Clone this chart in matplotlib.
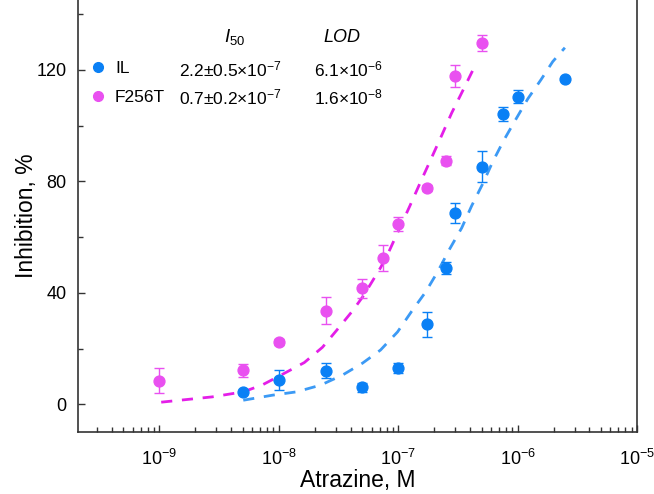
import matplotlib
matplotlib.use('Agg')
from matplotlib import pyplot as plt
from matplotlib.lines import Line2D
from matplotlib.ticker import LogLocator, MultipleLocator, LogFormatterSciNotation, NullFormatter

plt.rcParams['font.family'] = ['Liberation Sans', 'DejaVu Sans']
plt.rcParams['mathtext.fontset'] = 'custom'
plt.rcParams['mathtext.rm'] = 'Liberation Sans'
plt.rcParams['mathtext.it'] = 'Liberation Sans:italic'

# measured points, F256T mutant
x_f256t = [1e-9, 5e-9, 1e-8, 2.5e-8, 5e-8, 7.5e-8, 1e-7, 1.75e-7, 2.5e-7, 3e-7, 5e-7]
y_f256t = [8.5, 12.2, 22.4, 33.6, 41.6, 52.5, 64.7, 77.6, 87.4, 117.8, 129.6]
err_f256t = [4.5, 2.2, 1.0, 4.8, 3.3, 4.5, 2.5, 1.0, 1.5, 3.9, 2.9]

# measured points, IL
x_il = [5e-9, 1e-8, 2.5e-8, 5e-8, 1e-7, 1.75e-7, 2.5e-7, 3e-7, 5e-7, 7.5e-7, 1e-6, 2.5e-6]
y_il = [4.5, 8.7, 12.1, 6.1, 13.0, 28.8, 48.8, 68.6, 85.3, 104.1, 110.4, 116.6]
err_il = [0.6, 3.7, 2.7, 1.5, 1.8, 4.5, 2.1, 3.6, 5.5, 2.4, 2.4, 0.0]

# fitted curves
fit_f256t_x = [1.04e-9, 2.78e-9, 5.06e-9, 7.31e-9, 9.95e-9, 1.64e-8, 2.33e-8, 3.05e-8,
               4.15e-8, 5.14e-8, 7.13e-8, 8.32e-8, 1.25e-7, 1.57e-7, 1.91e-7, 2.32e-7,
               2.81e-7, 3.48e-7, 4.30e-7]
fit_f256t_y = [0.8, 2.7, 4.5, 7.0, 10.0, 15.0, 20.5, 26.5, 33.5, 39.0, 49.0, 54.5,
               71.0, 80.5, 88.5, 96.5, 104.5, 112.5, 120.5]
fit_il_x = [5.06e-9, 8.86e-9, 1.41e-8, 2.24e-8, 3.42e-8, 5.04e-8, 7.13e-8, 9.90e-8,
            1.30e-7, 1.70e-7, 2.14e-7, 2.70e-7, 3.41e-7, 4.13e-7, 5.11e-7, 6.20e-7,
            7.67e-7, 9.67e-7, 1.22e-6, 1.57e-6, 1.97e-6, 2.49e-6]
fit_il_y = [1.5, 3.3, 4.5, 6.9, 10.5, 14.8, 19.5, 26.0, 33.4, 40.3, 47.5, 55.7,
            63.3, 71.2, 79.1, 87.0, 94.7, 102.2, 109.6, 116.4, 122.9, 127.9]

x_major = [1e-9, 1e-8, 1e-7, 1e-6, 1e-5]
names = ['IL', 'F256T']
i50_text = [r'2.2$\pm$0.5$\times$10$^{-7}$', r'0.7$\pm$0.2$\times$10$^{-7}$']
lod_text = [r'6.1$\times$10$^{-6}$', r'1.6$\times$10$^{-8}$']

blue_pt, blue_ln = '#0a80f5', '#3c9af5'
mag_pt, mag_ln = '#e950f0', '#e41ee8'

W, H = 654, 494
fig = plt.figure(figsize=(W / 100, H / 100), dpi=100)
ax = fig.add_axes([77.7 / W, 1 - 432.3 / H, (637 - 77.7) / W, 432.3 / H])

ax.plot(fit_f256t_x, fit_f256t_y, '--', color=mag_ln, lw=2, dashes=(4, 3.5))
ax.plot(fit_il_x, fit_il_y, '--', color=blue_ln, lw=2, dashes=(4, 3.5))

ax.errorbar(x_il, y_il, yerr=err_il, fmt='o', color=blue_pt, ms=7.8, capsize=3.5,
            elinewidth=1, capthick=1, zorder=3)
ax.errorbar(x_f256t, y_f256t, yerr=err_f256t, fmt='o', color=mag_pt, ms=7.8, capsize=3.5,
            elinewidth=1, capthick=1, zorder=3)

ax.set_xscale('log')
ax.set_xlim(2.08e-10, 1e-5)
ax.set_ylim(-10, 145)
ax.set_xticks(x_major)
ax.xaxis.set_minor_locator(LogLocator(base=10, subs=range(2, 10), numticks=20))
ax.xaxis.set_major_formatter(LogFormatterSciNotation())
ax.xaxis.set_minor_formatter(NullFormatter())
ax.yaxis.set_major_locator(MultipleLocator(40))
ax.yaxis.set_minor_locator(MultipleLocator(20))

ax.spines['top'].set_visible(False)
for s in ['left', 'right', 'bottom']:
    ax.spines[s].set_linewidth(1.2)
    ax.spines[s].set_color('#333333')
ax.tick_params(which='major', direction='in', length=5, width=1, labelsize=13, color='#333333')
ax.tick_params(axis='x', which='major', pad=12)
ax.tick_params(axis='y', which='major', pad=8)
ax.tick_params(which='minor', direction='in', length=3.5, width=1, color='#333333')
ax.tick_params(axis='y', which='both', right=False)

ax.set_xlabel('Atrazine, M', fontsize=16.5, labelpad=0)
ax.set_ylabel('Inhibition, %', fontsize=16.5, labelpad=-1)

handles = [Line2D([], [], ls='', marker='o', ms=7, color=blue_pt),
           Line2D([], [], ls='', marker='o', ms=7, color=mag_pt)]
fig.legend(handles, names, loc='upper left', bbox_to_anchor=(89 / W, 1 - 61 / H),
           frameon=False, fontsize=12.5, handlelength=1, handletextpad=0.5,
           labelspacing=0.78, borderpad=0, borderaxespad=0)

fig.text(235 / W, 1 - 37 / H, r'$\mathit{I_{50}}$', fontsize=13.5, ha='center', va='center')
fig.text(342 / W, 1 - 37 / H, 'LOD', fontsize=13, style='italic', ha='center', va='center')
for k, row_y in enumerate([69, 97]):
    fig.text(179 / W, 1 - row_y / H, i50_text[k], fontsize=12.5, ha='left', va='center')
    fig.text(314 / W, 1 - row_y / H, lod_text[k], fontsize=12.5, ha='left', va='center')

fig.savefig('out.png', dpi=100)
